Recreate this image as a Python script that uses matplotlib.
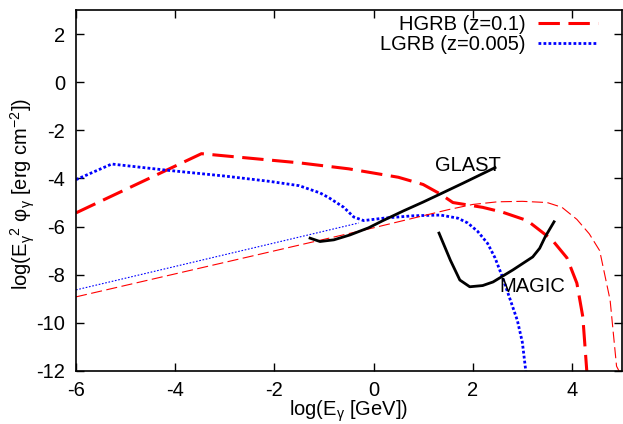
import numpy as np
import matplotlib
matplotlib.use("Agg")
import matplotlib.pyplot as plt

plt.rcParams['font.family'] = ['Liberation Sans', 'DejaVu Sans']
plt.rcParams['mathtext.fontset'] = 'custom'
plt.rcParams['mathtext.rm'] = 'Liberation Sans'
plt.rcParams['mathtext.it'] = 'Liberation Sans:italic'
plt.rcParams['font.size'] = 14.5
plt.rcParams['axes.unicode_minus'] = False

# HGRB at z=0.1: total spectrum (thick) and afterglow component (thin)
hgrb_x = [-6, -3.47, -1.5, -0.5, 0.5, 1.0, 1.35, 1.6, 1.9, 2.2, 2.6, 3.1, 3.6, 3.9, 4.1, 4.22, 4.3]
hgrb_y = [-5.43, -2.97, -3.35, -3.6, -3.95, -4.25, -4.65, -5.0, -5.1, -5.2, -5.4, -5.75, -6.55, -7.3, -8.35, -9.75, -12]
hgrb_ag_x = [-6, -1, 0, 1, 1.5, 2, 2.5, 3, 3.5, 3.8, 4.1, 4.35, 4.56, 4.77, 4.9, 4.95]
hgrb_ag_y = [-8.92, -6.53, -6.05, -5.55, -5.3, -5.08, -4.97, -4.95, -5.0, -5.2, -5.7, -6.3, -7.0, -9.05, -11.8, -12]

# LGRB at z=0.005
lgrb_x = [-6, -5.28, -4.2, -3, -2.1, -1.5, -1.08, -0.9, -0.6, -0.4, -0.2, 0.2, 0.8, 1.35, 1.7,
          1.9, 2.1, 2.3, 2.45, 2.6, 2.75, 2.9, 3.0, 3.07]
lgrb_y = [-4.05, -3.4, -3.65, -3.9, -4.12, -4.3, -4.6, -4.8, -5.2, -5.6, -5.75, -5.65, -5.55, -5.52, -5.65,
          -5.85, -6.2, -6.7, -7.3, -8.1, -9.0, -9.9, -10.8, -12]
lgrb_ag_x = [-6, -0.3]
lgrb_ag_y = [-8.63, -5.85]

# detector sensitivities
glast_x = [-1.28, -1.08, -0.8, -0.48, -0.1, 0.19, 0.6, 1.0, 1.34, 1.8, 2.45]
glast_y = [-6.48, -6.62, -6.55, -6.35, -6.05, -5.75, -5.35, -4.98, -4.65, -4.2, -3.55]
magic_x = [1.32, 1.55, 1.74, 1.94, 2.2, 2.41, 2.81, 3.21, 3.35, 3.46, 3.64]
magic_y = [-6.27, -7.4, -8.22, -8.5, -8.45, -8.3, -7.8, -7.26, -6.9, -6.43, -5.8]

fig = plt.figure(figsize=(6.23, 4.24), dpi=100)
ax = fig.add_axes([76 / 623, 53 / 424, 545.5 / 623, 361 / 424])

ax.plot(hgrb_x, hgrb_y, color='red', lw=2.2, dashes=(7, 2.8), label='HGRB (z=0.1)')
ax.plot(lgrb_x, lgrb_y, color='blue', lw=2.0, dashes=(1, 0.8), label='LGRB (z=0.005)')
ax.plot(hgrb_ag_x, hgrb_ag_y, color='red', lw=0.8, dashes=(10, 4))
ax.plot(lgrb_ag_x, lgrb_ag_y, color='blue', lw=0.8, dashes=(1.5, 1.5))
ax.plot(glast_x, glast_y, color='black', lw=2.0)
ax.plot(magic_x, magic_y, color='black', lw=2.0)

ax.text(1.9, -3.45, 'GLAST', ha='center', va='center')
ax.text(3.21, -8.5, 'MAGIC', ha='center', va='center')

ax.set_xlim(-6, 5)
ax.set_ylim(-12, 3)
ax.set_xticks(np.arange(-6, 5, 2))
ax.set_yticks(np.arange(-12, 3, 2))
ax.tick_params(direction='in', length=6, width=1.0, top=True, right=True)
ax.tick_params(axis='x', pad=7)
ax.tick_params(axis='y', pad=8)
for s in ax.spines.values():
    s.set_linewidth(1.2)

ax.set_xlabel(r'log(E$_{\mathrm{γ}}$ [GeV])')
ax.set_ylabel(r'log(E$_{\mathrm{γ}}$$^{\mathrm{2}}$ φ$_{\mathrm{γ}}$ [erg cm$^{\mathrm{-2}}$])')
ax.xaxis.set_label_coords(0.5, -0.076)
ax.yaxis.set_label_coords(-0.072, 0.49)

ax.legend(loc='upper right', bbox_to_anchor=(0.957, 0.985), frameon=False, markerfirst=False,
          handlelength=3.0, handletextpad=0.6, labelspacing=0.05, borderpad=0, borderaxespad=0)

fig.savefig('out.png', dpi=100)
